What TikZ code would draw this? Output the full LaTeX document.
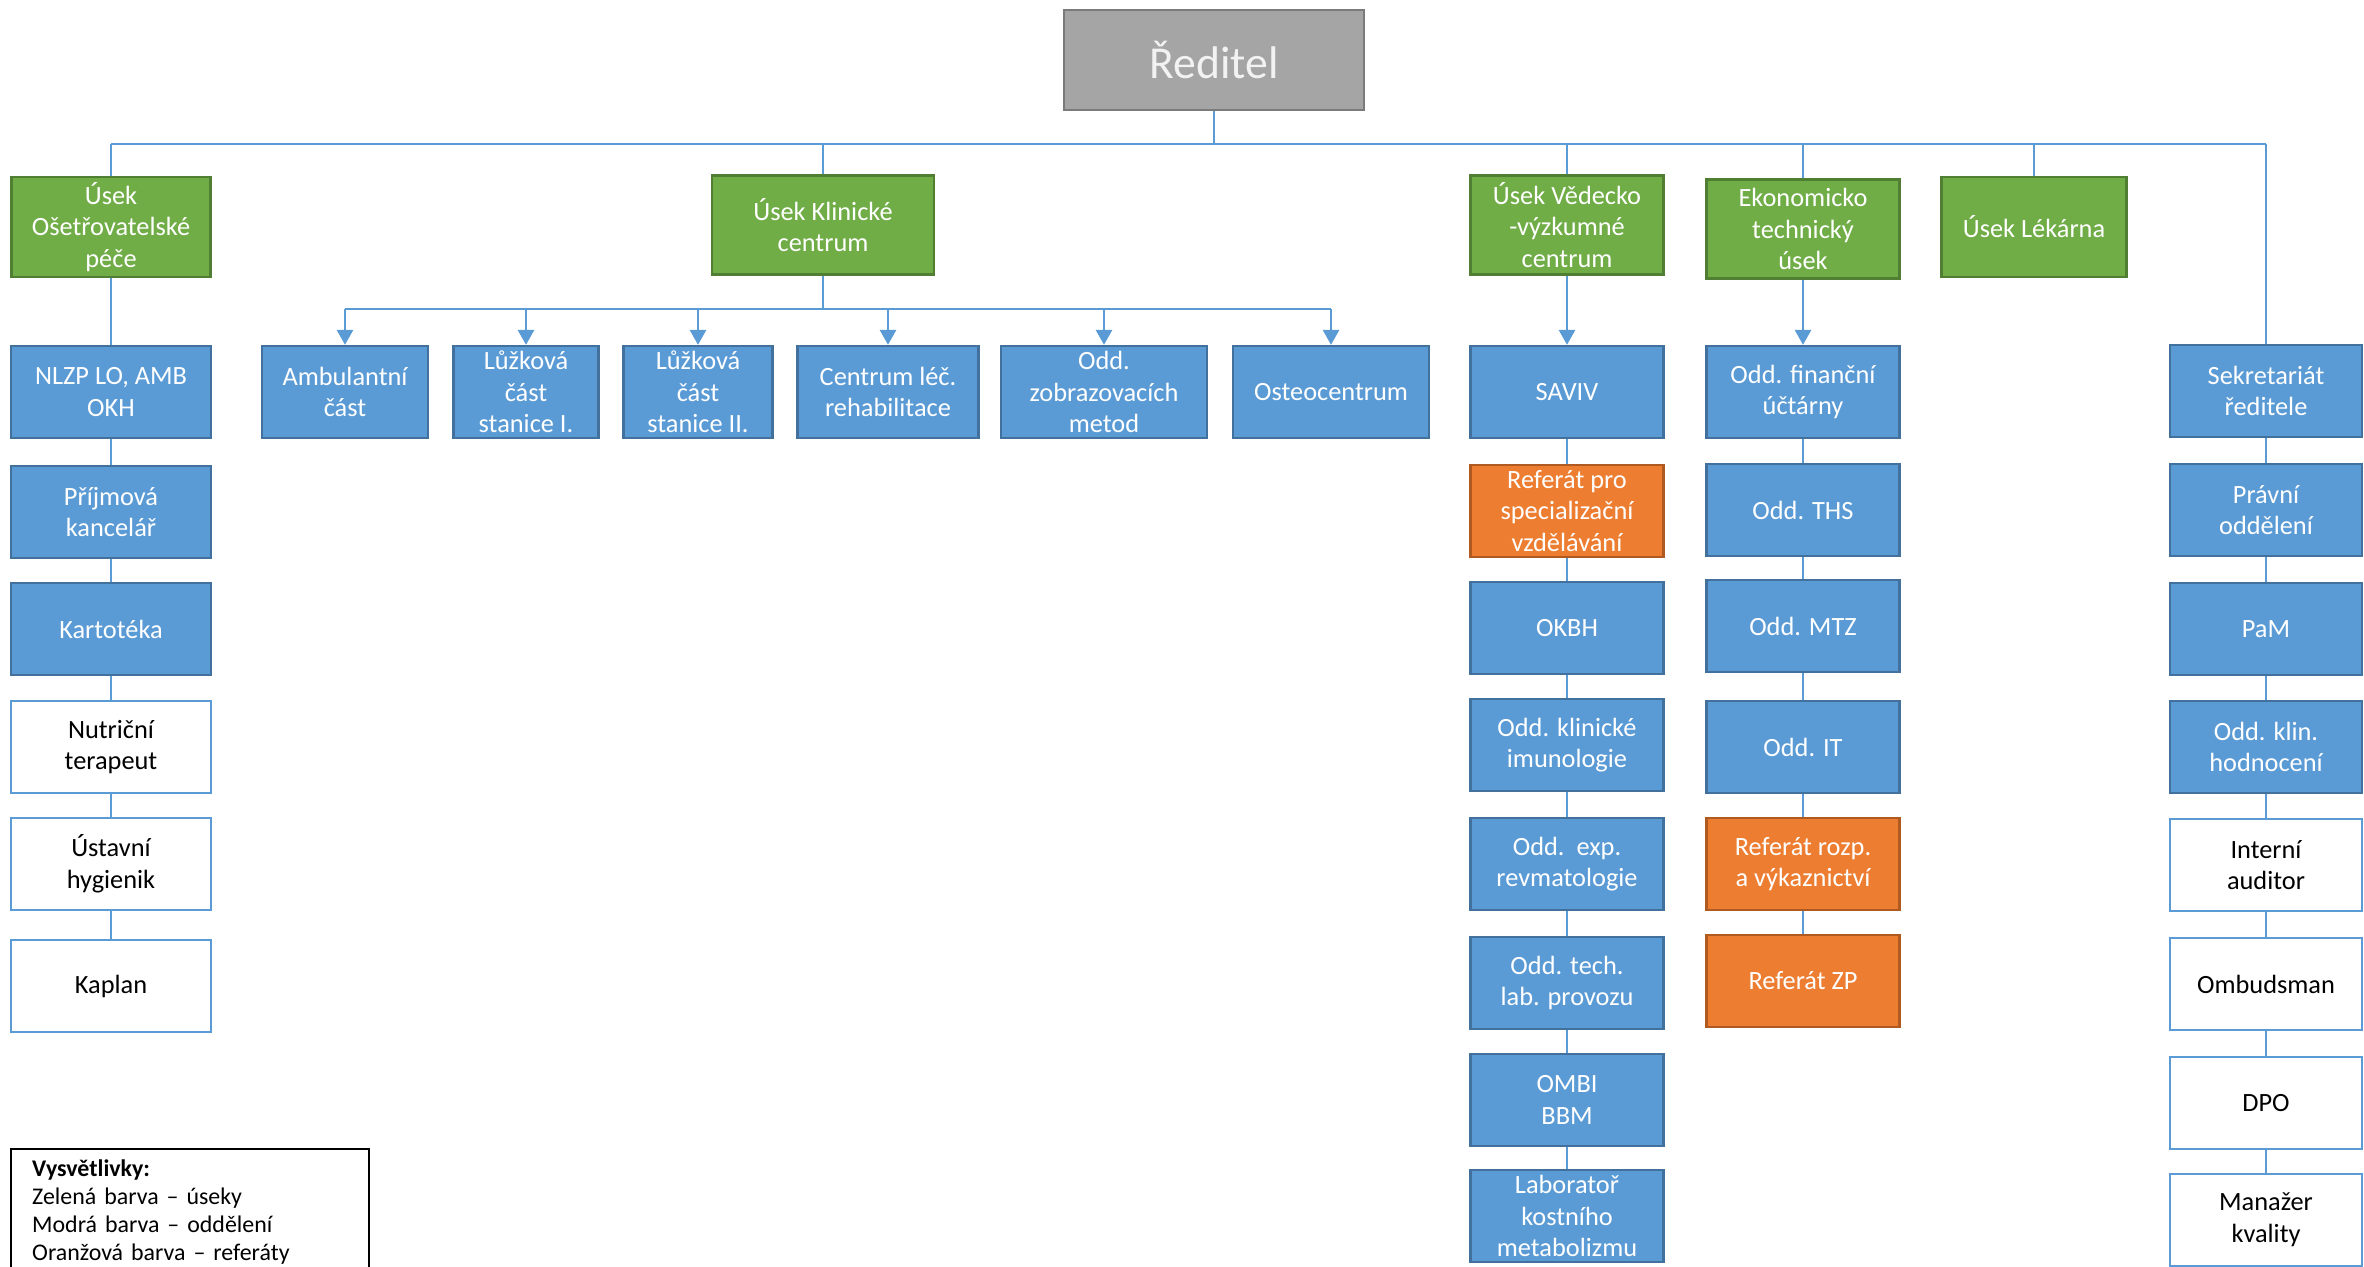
\documentclass[tikz,border=0pt]{standalone}
\usepackage{fontspec}
\setmainfont{Carlito}
\usetikzlibrary{arrows.meta}

\definecolor{zelena}{HTML}{70AD47}
\definecolor{zelenaokraj}{HTML}{507E32}
\definecolor{modra}{HTML}{5B9BD5}
\definecolor{modraokraj}{HTML}{41719C}
\definecolor{oranzova}{HTML}{ED7D31}
\definecolor{oranzovaokraj}{HTML}{AE5A21}
\definecolor{seda}{HTML}{A5A5A5}
\definecolor{sedaokraj}{HTML}{7B7B7B}

\tikzset{
    box/.style={rectangle, line width=1.3pt, align=center, inner sep=1pt,
        minimum height=1.84cm, font=\fontsize{15}{18}\selectfont},
    usek/.style={box, fill=zelena, draw=zelenaokraj, text=white},
    odd/.style={box, fill=modra, draw=modraokraj, text=white},
    referat/.style={box, fill=oranzova, draw=oranzovaokraj, text=white},
    osoba/.style={box, fill=white, draw=modra, text=black},
    spoj/.style={draw=modra, line width=0.8pt},
    sipka/.style={draw=modra, line width=1.6pt, -{Triangle[length=0.3cm,width=0.32cm]}}
}

\begin{document}
\begin{tikzpicture}[x=0.02cm, y=-0.02cm]
    \clip (0,0) rectangle (2364,1267);

    \node[box, fill=seda, draw=sedaokraj, text=white!95!black, minimum width=6cm,
        minimum height=2cm, font=\fontsize{26}{31}\selectfont] (reditel) at (1214,60) {Ředitel};

    \node[usek, minimum width=3.98cm, minimum height=2cm] (ose) at (111,227) {Úsek\\Ošetřovatelské\\péče};
    \node[usek, minimum width=4.44cm, minimum height=1.98cm] (klin) at (823,225) {Úsek Klinické\\centrum};
    \node[usek, minimum width=3.86cm, minimum height=1.98cm] (vv) at (1567,225) {Úsek Vědecko\\-výzkumné\\centrum};
    \node[usek, minimum width=3.86cm, minimum height=1.98cm] (ekon) at (1803,229) {Ekonomicko\\technický\\úsek};
    \node[usek, minimum width=3.7cm, minimum height=2cm] (lek) at (2034,227) {Úsek Lékárna};

    \node[odd, minimum width=4cm] (nlzp) at (111,392) {NLZP LO, AMB\\OKH};
    \node[odd, minimum width=3.32cm] (amb) at (345,392) {Ambulantní\\část};
    \node[odd, minimum width=2.9cm] (luz1) at (526,392) {Lůžková\\část\\stanice I.};
    \node[odd, minimum width=2.98cm] (luz2) at (698,392) {Lůžková\\část\\stanice II.};
    \node[odd, minimum width=3.62cm] (reh) at (888,392) {Centrum léč.\\rehabilitace};
    \node[odd, minimum width=4.12cm] (zobr) at (1104,392) {Odd.\\zobrazovacích\\metod};
    \node[odd, minimum width=3.92cm] (osteo) at (1331,392) {Osteocentrum};
    \node[odd, minimum width=3.86cm] (saviv) at (1567,392) {SAVIV};
    \node[odd, minimum width=3.86cm] (fin) at (1803,392) {Odd. finanční\\účtárny};
    \node[odd, minimum width=3.84cm] (sekr) at (2266,391) {Sekretariát\\ředitele};

    \node[odd, minimum width=4cm] (prijem) at (111,512) {Příjmová\\kancelář};
    \node[odd, minimum width=4cm] (karto) at (111,629) {Kartotéka};
    \node[osoba, minimum width=4cm] (nutri) at (111,747) {Nutriční\\terapeut};
    \node[osoba, minimum width=4cm] (hyg) at (111,864) {Ústavní\\hygienik};
    \node[osoba, minimum width=4cm] (kaplan) at (111,986) {Kaplan};

    \node[referat, minimum width=3.86cm] (refspec) at (1567,511) {Referát pro\\specializační\\vzdělávání};
    \node[odd, minimum width=3.86cm] (okbh) at (1567,628) {OKBH};
    \node[odd, minimum width=3.86cm] (imun) at (1567,745) {Odd. klinické\\imunologie};
    \node[odd, minimum width=3.86cm] (revma) at (1567,864) {Odd.\ \ exp.\\revmatologie};
    \node[odd, minimum width=3.86cm] (techlab) at (1567,983) {Odd. tech.\\lab. provozu};
    \node[odd, minimum width=3.86cm] (ombi) at (1567,1100) {OMBI\\BBM};
    \node[odd, minimum width=3.86cm] (labkost) at (1567,1216) {Laboratoř\\kostního\\metabolizmu};

    \node[odd, minimum width=3.86cm] (ths) at (1803,510) {Odd. THS};
    \node[odd, minimum width=3.86cm] (mtz) at (1803,626) {Odd. MTZ};
    \node[odd, minimum width=3.86cm] (it) at (1803,747) {Odd. IT};
    \node[referat, minimum width=3.86cm] (refrozp) at (1803,864) {Referát rozp.\\a výkaznictví};
    \node[referat, minimum width=3.86cm] (refzp) at (1803,981) {Referát ZP};

    \node[odd, minimum width=3.84cm] (pravni) at (2266,510) {Právní\\oddělení};
    \node[odd, minimum width=3.84cm] (pam) at (2266,629) {PaM};
    \node[odd, minimum width=3.84cm] (hodn) at (2266,747) {Odd. klin.\\hodnocení};
    \node[osoba, minimum width=3.84cm] (auditor) at (2266,865) {Interní\\auditor};
    \node[osoba, minimum width=3.84cm] (ombud) at (2266,984) {Ombudsman};
    \node[osoba, minimum width=3.84cm] (dpo) at (2266,1103) {DPO};
    \node[osoba, minimum width=3.84cm] (kvalita) at (2266,1220) {Manažer\\kvality};

    \node[draw=black, line width=1.4pt, anchor=north west, align=left, minimum width=7.16cm,
        text width=6.32cm, inner xsep=0.42cm, inner ysep=0.2cm,
        font=\fontsize{13.6}{16}\selectfont] (legenda) at (10,1148)
        {\textbf{Vysvětlivky:}\\Zelená barva – úseky\\Modrá barva – oddělení\\Oranžová barva – referáty};

    \coordinate (bus) at (1214,144);
    \coordinate (kbus) at (823,309);

    \draw[spoj] (reditel) -- (bus);
    \draw[spoj] (ose |- bus) -- (sekr |- bus);
    \foreach \n in {ose,klin,vv,ekon,lek,sekr}
        \draw[spoj] (\n |- bus) -- (\n);

    \draw[spoj] (ose) -- (nlzp);
    \draw[spoj] (klin) -- (kbus);
    \draw[spoj, line width=1.1pt] (amb |- kbus) -- (osteo |- kbus);
    \foreach \n in {amb,luz1,luz2,reh,zobr,osteo}
        \draw[sipka] (\n |- kbus) -- (\n);
    \draw[sipka] (vv) -- (saviv);
    \draw[sipka] (ekon) -- (fin);

    \foreach \a/\b in {nlzp/prijem, prijem/karto, karto/nutri, nutri/hyg, hyg/kaplan,
        saviv/refspec, refspec/okbh, okbh/imun, imun/revma, revma/techlab, techlab/ombi, ombi/labkost,
        fin/ths, ths/mtz, mtz/it, it/refrozp, refrozp/refzp,
        sekr/pravni, pravni/pam, pam/hodn, hodn/auditor, auditor/ombud, ombud/dpo, dpo/kvalita}
        \draw[spoj] (\a) -- (\b);

\end{tikzpicture}
\end{document}
